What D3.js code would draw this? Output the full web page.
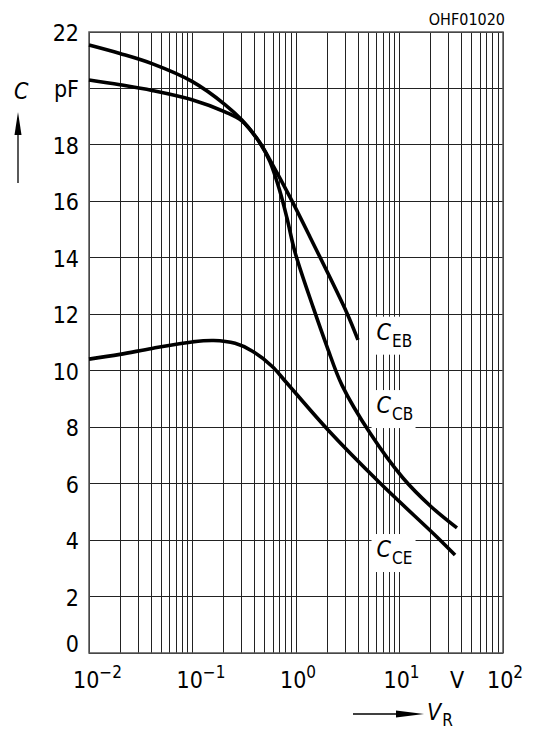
<!DOCTYPE html>
<html>
<head>
<meta charset="utf-8">
<script src="https://cdn.jsdelivr.net/npm/d3@7"></script>
<style>
  body { margin: 0; background: #fff; }
  text { font-family: 'DejaVu Sans Condensed', 'Liberation Sans', sans-serif; fill: #000; }
</style>
</head>
<body>
<div id="chart"></div>
<script>
// curve data (V_R in volts, C in pF)
const cbVolts = [0.01, 0.0199, 0.0406, 0.0989, 0.206, 0.30, 0.449, 0.561, 0.70, 0.819, 0.978, 1.46, 2.0, 2.78, 5.19, 10.8, 20, 35.9]
const cbCap = [21.54, 21.24, 20.88, 20.25, 19.43, 18.88, 18.07, 17.4, 16.35, 15.4, 14.2, 12.26, 10.84, 9.49, 7.79, 6.2, 5.2, 4.43]

const ebVolts = [0.01, 0.0199, 0.0406, 0.0989, 0.206, 0.30, 0.449, 0.561, 0.875, 1.365, 3.11, 3.97]
const ebCap = [20.3, 20.13, 19.93, 19.6, 19.17, 18.85, 18.07, 17.46, 16.15, 14.74, 12.04, 11.09]

const ceVolts = [0.01, 0.0199, 0.0406, 0.0989, 0.16, 0.258, 0.376, 0.586, 0.8, 2.04, 6.48, 23.0, 34.4]
const ceCap = [10.41, 10.58, 10.79, 11.02, 11.07, 10.97, 10.7, 10.16, 9.6, 7.9, 6.02, 4.11, 3.47]

const curveNames = ['CB', 'EB', 'CE']
// label anchor (volts, pF) for each curve name
const labelVolts = [6.0, 6.0, 6.0]
const labelCap = [8.5, 11.1, 3.4]

const yTicks = [0, 2, 4, 6, 8, 10, 12, 14, 16, 18, 20, 22]
const yTickLabels = ['0', '2', '4', '6', '8', '10', '12', '14', '16', '18', 'pF', '22']
const xDecades = [-2, -1, 0, 1, 2]

const svgDimension = { width: 533, height: 730 }
const margins = { left: 89, right: 30, top: 32, bottom: 77 }
const innerWidth = svgDimension.width - margins.left - margins.right
const innerHeight = svgDimension.height - margins.top - margins.bottom

const svg = d3.select('#chart')
  .append('svg')
  .attr('width', svgDimension.width)
  .attr('height', svgDimension.height)

const canvas = svg.append('g')
  .attr('transform', `translate(${margins.left}, ${margins.top})`)

const xScale = d3.scaleLog().domain([0.01, 100]).range([0, innerWidth])
const yScale = d3.scaleLinear().domain([0, 22]).range([innerHeight, 0])

// grid: every 1..9 inside each decade
const xGrid = []
for (let d = -2; d < 2; d++) {
  for (let k = 1; k <= 9; k++) xGrid.push(k * Math.pow(10, d))
}
xGrid.push(100)

const gridGroup = canvas.append('g')
gridGroup.selectAll('line.v')
  .data(xGrid)
  .join('line')
  .attr('x1', d => xScale(d)).attr('x2', d => xScale(d))
  .attr('y1', 0).attr('y2', innerHeight)
  .attr('stroke', '#222').attr('stroke-width', 1)
  .attr('shape-rendering', 'crispEdges')

gridGroup.selectAll('line.h')
  .data(yTicks)
  .join('line')
  .attr('x1', 0).attr('x2', innerWidth)
  .attr('y1', d => yScale(d)).attr('y2', d => yScale(d))
  .attr('stroke', '#222').attr('stroke-width', 1)
  .attr('shape-rendering', 'crispEdges')

// frame
canvas.append('rect')
  .attr('width', innerWidth).attr('height', innerHeight)
  .attr('fill', 'none').attr('stroke', '#555').attr('stroke-width', 1.5)

// white boxes behind curve labels (they cut the grid)
const labelGroup = canvas.append('g')
curveNames.forEach((name, i) => {
  const lx = xScale(labelVolts[i])
  const ly = yScale(labelCap[i])
  labelGroup.append('rect')
    .attr('x', lx - 5).attr('y', ly - 23)
    .attr('width', 44).attr('height', 38)
    .attr('fill', '#fff')
  const t = labelGroup.append('text')
    .attr('x', lx).attr('y', ly)
    .attr('font-size', 23)
  t.append('tspan').attr('font-style', 'italic').text('C')
  t.append('tspan').attr('font-size', 17).attr('dy', 7).attr('dx', 1).text(name)
})

// curves
const line = d3.line()
  .x(d => xScale(d[0]))
  .y(d => yScale(d[1]))
  .curve(d3.curveCatmullRom.alpha(0.5))

const series = [
  d3.zip(cbVolts, cbCap),
  d3.zip(ebVolts, ebCap),
  d3.zip(ceVolts, ceCap),
]
canvas.selectAll('path.curve')
  .data(series)
  .join('path')
  .attr('class', 'curve')
  .attr('d', line)
  .attr('fill', 'none')
  .attr('stroke', '#000')
  .attr('stroke-width', 3.6)

// y tick labels
canvas.selectAll('text.ytick')
  .data(yTicks)
  .join('text')
  .attr('class', 'ytick')
  .attr('x', -10)
  .attr('y', d => d === 0 ? yScale(d) - 1 : yScale(d) + 9)
  .attr('text-anchor', 'end')
  .attr('font-size', 23)
  .text((d, i) => yTickLabels[i])

// x tick labels: 10^n
const xLabels = canvas.selectAll('text.xtick')
  .data(xDecades)
  .join('text')
  .attr('class', 'xtick')
  .attr('x', d => xScale(Math.pow(10, d)) - 16)
  .attr('y', innerHeight + 35)
  .attr('font-size', 23)
xLabels.append('tspan').text('10')
xLabels.append('tspan')
  .attr('font-size', 17).attr('dy', -10)
  .text(d => d < 0 ? '\u2212' + (-d) : String(d))

canvas.append('text')
  .attr('x', xScale(36)).attr('y', innerHeight + 35)
  .attr('text-anchor', 'middle')
  .attr('font-size', 23)
  .text('V')

// axis titles
svg.append('text')
  .attr('x', 14).attr('y', 99)
  .attr('font-size', 23).attr('font-style', 'italic')
  .text('C')
svg.append('line')
  .attr('x1', 18).attr('x2', 18).attr('y1', 183).attr('y2', 130)
  .attr('stroke', '#000').attr('stroke-width', 1.3)
svg.append('path')
  .attr('d', 'M18,112 L14.5,135 L21.5,135 Z')
  .attr('fill', '#000')

svg.append('line')
  .attr('x1', 353).attr('x2', 400).attr('y1', 714).attr('y2', 714)
  .attr('stroke', '#000').attr('stroke-width', 1.3)
svg.append('path')
  .attr('d', 'M424,714 L396,710.5 L396,717.5 Z')
  .attr('fill', '#000')
const vr = svg.append('text')
  .attr('x', 427).attr('y', 720)
  .attr('font-size', 23)
vr.append('tspan').attr('font-style', 'italic').text('V')
vr.append('tspan').attr('font-size', 17).attr('dy', 6).attr('dx', 1).text('R')

svg.append('text')
  .attr('x', 505).attr('y', 25)
  .attr('text-anchor', 'end')
  .attr('font-size', 16)
  .text('OHF01020')
</script>
</body>
</html>
